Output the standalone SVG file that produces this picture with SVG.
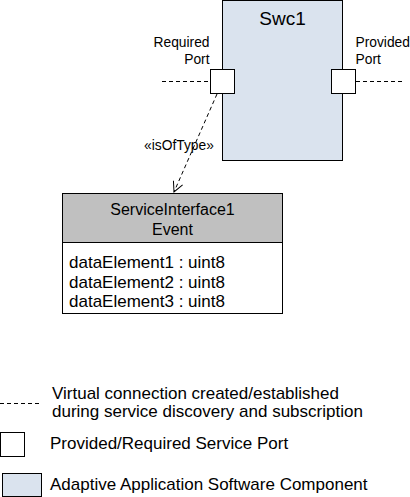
<svg xmlns="http://www.w3.org/2000/svg" width="410" height="497" viewBox="0 0 410 497">
<defs>
<style>
text{font-family:"Liberation Sans",Arial,sans-serif;fill:#000}
.lbl{font-size:13.8px}
.hdr{font-size:16px}
.big{font-size:17px}
.leg{font-size:17px}
.box{stroke:#000;stroke-width:1}
.dash{stroke:#000;stroke-width:1;stroke-dasharray:4,3;fill:none}
</style>
<marker id="open" viewBox="0 0 12 12" refX="11" refY="6" markerWidth="12" markerHeight="12" markerUnits="userSpaceOnUse" orient="auto">
<path d="M1,1 L11,6 L1,11" fill="none" stroke="#000" stroke-width="1"/>
</marker>
</defs>
<g id="swc1">
<rect class="box" x="222.5" y="0.5" width="120" height="160" fill="#dae3ee"/>
<text x="282.5" y="25" text-anchor="middle" style="font-size:19px">Swc1</text>
</g>
<g id="required-port">
<rect class="box" x="210.5" y="69.5" width="24" height="24" fill="#fff"/>
<text class="lbl" x="209.5" y="47" text-anchor="end">Required</text>
<text class="lbl" x="209.5" y="64" text-anchor="end">Port</text>
</g>
<g id="provided-port">
<rect class="box" x="331.5" y="69.5" width="24" height="24" fill="#fff"/>
<text class="lbl" x="355.5" y="47">Provided</text>
<text class="lbl" x="355.5" y="64">Port</text>
</g>
<g id="service-interface">
<rect class="box" x="62.5" y="193.5" width="220" height="120" fill="#fff"/>
<rect class="box" x="62.5" y="193.5" width="220" height="49" fill="#c0c0c0"/>
<text class="hdr" x="172.5" y="215" text-anchor="middle">ServiceInterface1</text>
<text class="hdr" x="172.5" y="235" text-anchor="middle">Event</text>
<text class="big" x="69" y="268">dataElement1 : uint8</text>
<text class="big" x="69" y="287.5">dataElement2 : uint8</text>
<text class="big" x="69" y="307">dataElement3 : uint8</text>
</g>
<g id="connectors">
<line class="dash" x1="162" y1="81.5" x2="210" y2="81.5"/>
<line class="dash" x1="356" y1="81.5" x2="403" y2="81.5"/>
<line class="dash" x1="217" y1="94" x2="174" y2="192" marker-end="url(#open)"/>
<text class="lbl" x="179" y="150" text-anchor="middle">«isOfType»</text>
</g>
<g id="legend">
<line class="dash" x1="0" y1="403.5" x2="41" y2="403.5"/>
<text class="leg" x="52" y="399">Virtual connection created/established</text>
<text class="leg" x="52" y="417">during service discovery and subscription</text>
<rect class="box" x="0.5" y="432.5" width="24" height="24" fill="#fff"/>
<text class="leg" x="50" y="449">Provided/Required Service Port</text>
<rect class="box" x="2.5" y="473.5" width="39" height="23" fill="#dae3ee"/>
<text class="leg" x="50" y="490">Adaptive Application Software Component</text>
</g>
</svg>
